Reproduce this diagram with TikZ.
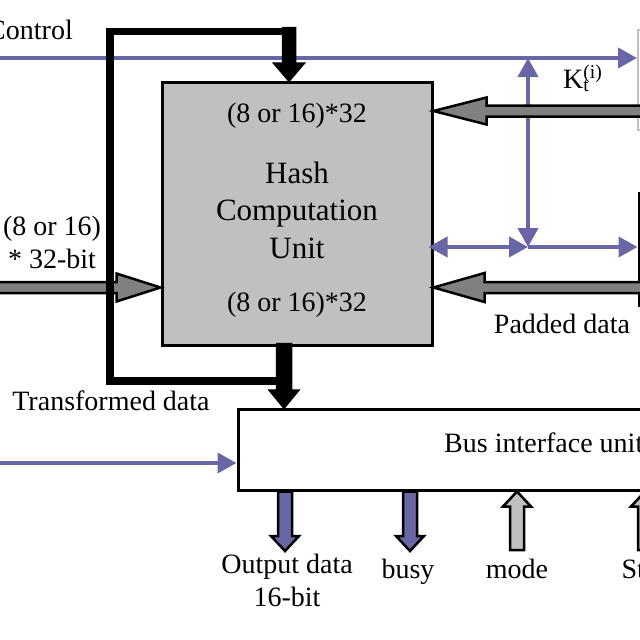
\documentclass[tikz,border=0pt]{standalone}
\usepackage{fontspec}
\setmainfont{Liberation Serif}
\usetikzlibrary{arrows.meta,calc,positioning}

\definecolor{busline}{RGB}{104,102,164}
\definecolor{datagray}{RGB}{128,128,128}
\definecolor{unitgray}{RGB}{192,192,192}

\tikzset{
  lbl/.style={inner sep=0pt, font=\fontsize{28pt}{33pt}\selectfont},
  unitbox/.style={draw, line width=3pt, inner sep=0pt},
  ctl/.style={draw=busline, line width=4pt, -{Triangle[length=19pt,width=20pt]}},
  ctlboth/.style={draw=busline, line width=4pt,
    {Triangle[length=19pt,width=20pt]}-{Triangle[length=19pt,width=20pt]}},
  loopline/.style={line width=7.5pt, line join=miter},
  fatline/.style={draw=black, line width=2.5pt, line join=miter},
  % shaft half width, head half width, head length
  fat/.style n args={3}{to path={
    ($(\tikztostart)!#1!90:(\tikztotarget)$)
    -- ($($(\tikztotarget)!#3!(\tikztostart)$)!#1!-90:(\tikztostart)$)
    -- ($($(\tikztotarget)!#3!(\tikztostart)$)!#2!-90:(\tikztostart)$)
    -- (\tikztotarget)
    -- ($($(\tikztotarget)!#3!(\tikztostart)$)!#2!90:(\tikztostart)$)
    -- ($($(\tikztotarget)!#3!(\tikztostart)$)!#1!90:(\tikztostart)$)
    -- ($(\tikztostart)!#1!-90:(\tikztotarget)$)
    -- cycle}},
}

\begin{document}
\begin{tikzpicture}[x=1pt,y=-1pt]
\useasboundingbox (0,0) rectangle (640,640);
\clip (0,0) rectangle (640,640);

% blocks
\node[unitbox, fill=unitgray, minimum width=270pt, minimum height=263pt] (hcu) at (297,213.5) {};
\node[unitbox, fill=white, minimum width=610pt, minimum height=81pt] (biu) at (543,449.5) {};
\node[draw=unitgray, line width=2pt, minimum width=80pt, minimum height=100pt] (kgen) at (678,80) {};
\node[unitbox, minimum width=80pt, minimum height=112pt] (padu) at (679,249) {};

% control lines
\coordinate (ctlin) at (-10,58);
\coordinate (ktop) at (528,58);
\coordinate (kbot) at (528,247);
\coordinate (busin) at (-10,463);
\draw[ctl] (ctlin) -- (kgen.west |- ctlin);
\draw[ctlboth] (ktop) -- (kbot);
\draw[ctlboth] ([xshift=-5pt]hcu.east |- kbot) -- (kbot);
\draw[ctl] (kbot) -- (padu.west |- kbot);
\draw[ctl] (busin) -- (biu.west |- busin);

% data paths
\coordinate (datin) at (-10,287.5);
\coordinate (kin) at (660,111);
\coordinate (padin) at (660,287.5);
\draw[fatline, fill=datagray] (datin) to[fat={5.5pt}{14pt}{44pt}] (hcu.west |- datin);
\draw[fatline, fill=datagray] (kin) to[fat={5.5pt}{13.5pt}{53pt}] (hcu.east |- kin);
\draw[fatline, fill=datagray] (padin) to[fat={5.5pt}{14.5pt}{51pt}] (hcu.east |- padin);

% feedback of transformed data
\coordinate (fbtop) at (289,28);
\coordinate (hout) at (284,344);
\coordinate (loopbl) at (110,381);
\coordinate (looptl) at (110,31.5);
\draw[loopline] (hout |- loopbl) -- (loopbl) -- (looptl) -- (fbtop |- looptl);
\draw[fatline, fill=black] (fbtop) to[fat={6pt}{14.5pt}{17pt}] (hcu.north -| fbtop);
\draw[fatline, fill=black] (hout) to[fat={7pt}{14pt}{17pt}] (biu.north -| hout);

% bus signals
\coordinate (odat) at (285,551);
\coordinate (busy) at (410,551);
\coordinate (mode) at (517,550);
\coordinate (start) at (645,550);
\draw[fatline, fill=busline] (biu.south -| odat) to[fat={7pt}{14pt}{15pt}] (odat);
\draw[fatline, fill=busline] (biu.south -| busy) to[fat={7pt}{14pt}{15pt}] (busy);
\draw[fatline, fill=unitgray] (mode) to[fat={7pt}{14pt}{15pt}] (biu.south -| mode);
\draw[fatline, fill=unitgray] (start) to[fat={7pt}{14pt}{15pt}] (biu.south -| start);

% labels
\node[lbl, anchor=base east] (ctl-l) at (73,39) {Control};
\node[lbl, align=center] (din-l) at (52,242) {(8 or 16)\\* 32-bit};
\node[lbl] (hin-l) at (297,116) {(8 or 16)*32};
\node[lbl, font=\fontsize{31pt}{37.5pt}\selectfont, align=center] (hcu-l) at (297,210) {Hash\\Computation\\Unit};
\node[lbl] (hout-l) at (297,305) {(8 or 16)*32};
\node[lbl, anchor=base west] (k-l) at (563,88) {K\rlap{\textsubscript{t}}\textsuperscript{(i)}};
\node[lbl, anchor=base] (pad-l) at (562,333) {Padded data};
\node[lbl, anchor=base] (fb-l) at (111,410) {Transformed data};
\node[lbl, anchor=base west] (biu-l) at (444,452) {Bus interface unit};
\node[lbl, align=center] (odat-l) at (287,580.5) {Output data\\16-bit};
\node[lbl, anchor=base] (busy-l) at (408,578) {busy};
\node[lbl, anchor=base] (mode-l) at (517,578) {mode};
\node[lbl, anchor=base] (start-l) at (648,578) {Start};
\end{tikzpicture}
\end{document}
